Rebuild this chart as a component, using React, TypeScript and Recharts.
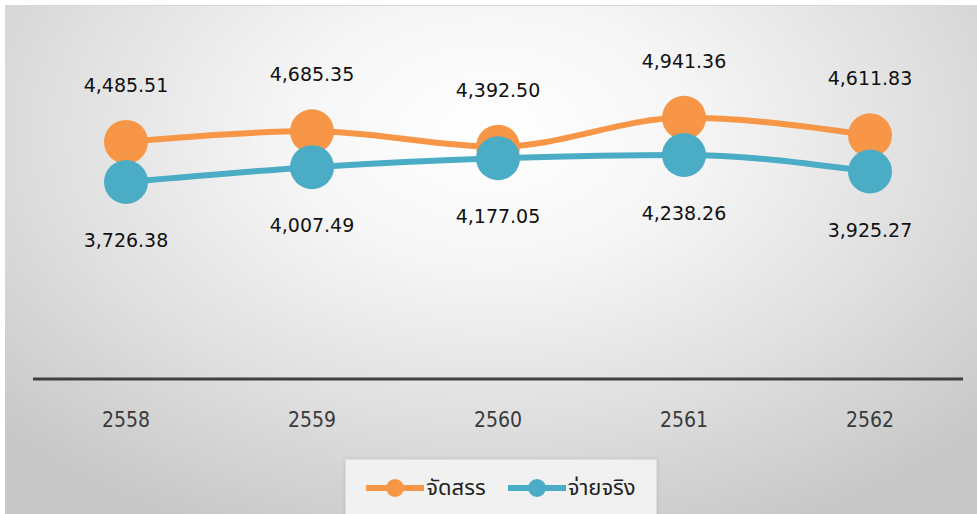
import { LineChart, Line, XAxis, YAxis, LabelList } from "recharts";

const years = ["2558", "2559", "2560", "2561", "2562"];
const allocated = [4485.51, 4685.35, 4392.5, 4941.36, 4611.83];
const spent = [3726.38, 4007.49, 4177.05, 4238.26, 3925.27];

const ORANGE = "#F79646";
const TEAL = "#4BACC6";

const data = years.map((y, i) => ({
  year: y,
  allocated: allocated[i],
  spent: spent[i],
}));

const fmt = (v: number) =>
  v.toLocaleString("en-US", { minimumFractionDigits: 2, maximumFractionDigits: 2 });

const labelFont = "'DejaVu Sans', Verdana, sans-serif";

function makeLabel(dy: number) {
  return (props: any) => {
    const { x, y, value } = props;
    return (
      <text
        x={x}
        y={y + dy}
        textAnchor="middle"
        dominantBaseline="central"
        fontFamily={labelFont}
        fontSize={19}
        fill="#111"
      >
        {fmt(value)}
      </text>
    );
  };
}

function YearTick(props: any) {
  const { x, y, payload } = props;
  return (
    <text
      x={x}
      y={y + 41}
      textAnchor="middle"
      dominantBaseline="central"
      fontFamily="'Liberation Sans Narrow', 'DejaVu Sans Condensed', 'Liberation Sans', sans-serif"
      fontSize={21}
      fill="#3a3a3a"
    >
      {payload.value}
    </text>
  );
}

function LegendIcon({ color }: { color: string }) {
  return (
    <svg width={58} height={20} style={{ display: "block" }}>
      <line x1={0} y1={10} x2={58} y2={10} stroke={color} strokeWidth={6} />
      <circle cx={29} cy={10} r={9} fill={color} />
    </svg>
  );
}

export default function App() {
  return (
    <div
      style={{
        position: "absolute",
        left: 0,
        top: 0,
        width: 977,
        height: 514,
        background: "#ffffff",
        overflow: "hidden",
      }}
    >
      <div
        style={{
          position: "absolute",
          left: 5,
          top: 5,
          width: 972,
          height: 509,
          borderTop: "1px solid #d6d6d6",
          background:
            "radial-gradient(ellipse 68% 85% at 50% 25%, #ffffff 0%, #f6f6f6 30%, #e0e0e0 65%, #c8c8c8 100%)",
        }}
      >
        <LineChart
          width={972}
          height={509}
          data={data}
          margin={{ top: 3, right: 14, bottom: 106, left: 28 }}
        >
          <XAxis
            dataKey="year"
            height={30}
            padding={{ left: 93, right: 93 }}
            axisLine={{ stroke: "#404040", strokeWidth: 3 }}
            tickLine={false}
            tickSize={0}
            tickMargin={0}
            tick={<YearTick />}
            interval={0}
          />
          <YAxis hide domain={[0, 7000]} />
          <Line
            type="monotone"
            dataKey="allocated"
            stroke={ORANGE}
            strokeWidth={6}
            dot={{ r: 22, fill: ORANGE, stroke: "none" }}
            activeDot={false}
            isAnimationActive={false}
          >
            <LabelList dataKey="allocated" content={makeLabel(-57)} />
          </Line>
          <Line
            type="monotone"
            dataKey="spent"
            stroke={TEAL}
            strokeWidth={6}
            dot={{ r: 22, fill: TEAL, stroke: "none" }}
            activeDot={false}
            isAnimationActive={false}
          >
            <LabelList dataKey="spent" content={makeLabel(58)} />
          </Line>
        </LineChart>
        <div
          style={{
            position: "absolute",
            left: 340,
            top: 453,
            width: 310,
            height: 56,
            background: "#f1f1f1",
            border: "1px solid #dedede",
            boxShadow: "0 0 4px rgba(0,0,0,0.12)",
            display: "flex",
            alignItems: "center",
            justifyContent: "center",
            gap: 22,
            fontFamily: "'Noto Sans Thai', 'Noto Sans', Tahoma, sans-serif",
            fontSize: 22,
            color: "#222",
          }}
        >
          <div style={{ display: "flex", alignItems: "center", gap: 2 }}>
            <LegendIcon color={ORANGE} />
            <span>จัดสรร</span>
          </div>
          <div style={{ display: "flex", alignItems: "center", gap: 2 }}>
            <LegendIcon color={TEAL} />
            <span>จ่ายจริง</span>
          </div>
        </div>
      </div>
    </div>
  );
}
